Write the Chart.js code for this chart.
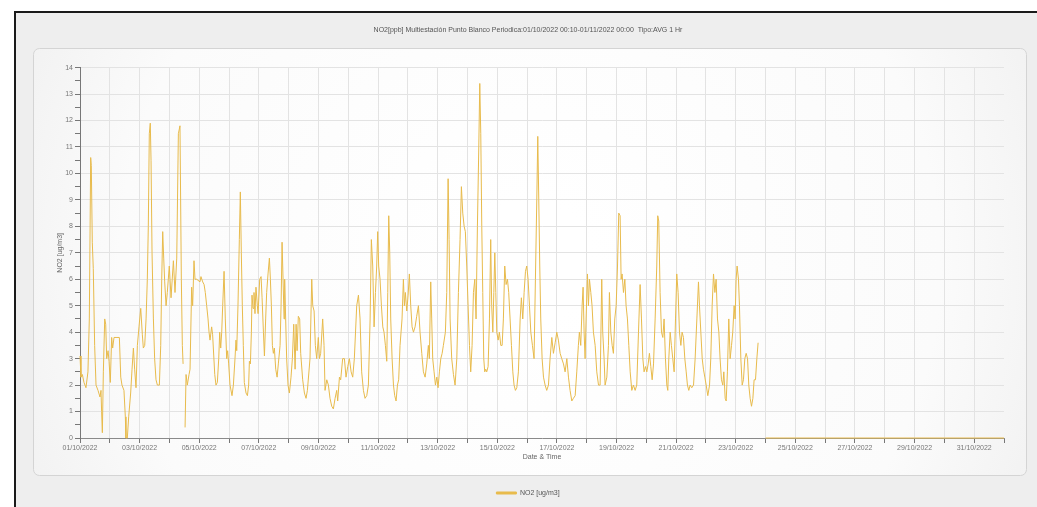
<!DOCTYPE html>
<html>
<head>
<meta charset="utf-8">
<title>NO2 Punto Blanco</title>
<script src="https://cdn.jsdelivr.net/npm/chart.js@4.4.0/dist/chart.umd.min.js"></script>
<style>
    html, body { margin: 0; padding: 0; background: #ffffff; width: 1037px; height: 507px; overflow: hidden; }
    #frame { position: absolute; left: 14px; top: 11px; width: 1023px; height: 496px; background: #eeeeee;
             border-top: 2px solid #1a1a1a; border-left: 2px solid #1a1a1a; box-sizing: border-box; }
    #no2Chart { position: absolute; left: 0; top: 0; }
</style>
</head>
<body>
<div id="frame"></div>
<canvas id="no2Chart" width="1037" height="507"></canvas>
<script>
// Hourly NO2 readings, [hours since 01/10/2022 00:00, value]
const days1to8 = [
    [0,3.1],[0.8,2.3],[1.9,2.4],[3.2,2.1],[4.8,1.9],[6.4,2.5],[7.5,4.5],[8.6,10.6],[9.1,10.3],[9.9,7.4],
    [10.7,6.4],[11.8,3.5],[12.9,2.0],[14.5,1.8],[16.1,1.55],[16.9,1.8],[17.4,1.0],[18.0,0.2],[18.8,2.5],[19.9,4.5],
    [20.7,4.3],[21.5,3.0],[22.6,3.3],[23.4,2.9],[24.4,2.1],[25.5,3.8],[26.3,3.4],[27.4,3.8],[29.0,3.8],[31.7,3.8],
    [32.8,2.3],[33.8,2.0],[35.4,1.8],[36.5,0.8],[37.0,0.0],[38.1,0.0],[39.2,0.8],[40.8,1.7],[41.9,2.6],[43.0,3.4],
    [44.0,2.6],[45.1,1.9],[46.2,3.5],[47.5,4.2],[48.9,4.9],[50.2,3.9],[51.0,3.4],[52.1,3.5],[53.2,4.5],[54.2,6.0],
    [55.0,8.0],[55.8,11.5],[56.6,11.9],[57.2,10.5],[58.0,7.0],[59.1,4.5],[60.1,3.0],[61.2,2.2],[62.3,2.0],[63.9,2.0],
    [65.0,3.5],[65.8,6.0],[66.6,7.8],[67.4,6.8],[68.2,5.9],[69.3,5.0],[70.3,5.5],[71.9,6.5],[73.3,5.3],[75.2,6.7],
    [76.5,5.5],[77.9,6.8],[79.2,11.5],[80.5,11.8],[81.6,6.0],[82.4,3.5],[83.0,2.8],[83.8,null],[84.6,0.4],[85.4,2.4],
    [86.4,2.0],[87.8,2.4],[88.6,2.6],[89.9,5.7],[90.7,5.0],[91.8,6.7],[92.6,6.0],[94.0,6.0],[96.6,5.9],[97.4,6.1],
    [98.8,5.9],[99.9,5.8],[100.9,5.5],[102.0,5.0],[103.1,4.5],[103.9,4.0],[104.7,3.7],[106.0,4.2],[106.8,3.9],[107.7,3.1],
    [108.5,2.4],[109.5,2.0],[110.6,2.1],[111.7,3.0],[112.5,4.0],[113.3,3.4],[114.1,4.0],[114.9,5.0],[116.0,6.3],[117.0,4.5],
    [118.1,3.0],[118.9,3.3],[119.7,2.8],[120.8,2.0],[122.4,1.6],[123.5,2.0],[124.8,3.0],[125.6,3.7],[126.2,3.3],[127.2,5.0],
    [128.3,7.5],[129.1,9.3],[129.9,7.0],[130.7,5.0],[131.5,3.5],[132.3,2.1],[133.7,1.7],[134.8,1.6],[135.8,2.0],[136.4,2.9],
    [137.2,2.8],[138.0,4.0],[138.5,5.4],[139.3,4.9],[140.1,5.5],[140.9,4.7],[141.7,5.7],[142.8,5.0],[143.4,4.7],[144.7,6.0],
    [145.8,6.1],[146.6,5.3],[147.7,4.0],[148.5,3.1],[149.5,4.5],[150.3,5.5],[151.4,6.2],[152.5,6.8],[153.3,6.0],[154.1,5.0],
    [154.9,3.5],[155.7,3.2],[156.5,3.4],[157.6,2.6],[158.7,2.3],[159.7,2.8],[161.1,3.5],[161.9,5.0],[162.7,7.4],[163.5,6.0],
    [164.3,4.5],[164.8,6.0],[165.6,4.5],[166.4,3.0],[167.5,2.0],[168.6,1.7],[169.9,2.3],[171.0,3.0],[172.1,4.3],[173.2,2.6],
    [174.0,4.3],[174.8,3.3],[175.8,4.6],[176.9,4.5],[177.7,3.2],[179.3,2.2],[180.7,1.7],[182.0,1.5],[183.1,1.8],[185.2,3.0]
];

const days8to16 = [
    [186.6,6.0],[187.4,5.0],[188.5,4.8],[189.5,3.5],[190.6,3.0],[191.9,3.8],[192.8,3.0],[193.8,3.2],[195.4,4.5],[196.5,3.5],
    [197.3,1.8],[198.7,2.2],[200.0,2.0],[201.3,1.5],[202.7,1.2],[204.0,1.1],[205.4,1.5],[206.7,1.8],[207.5,1.4],[208.9,2.3],
    [209.9,2.2],[211.5,3.0],[212.9,3.0],[214.2,2.3],[215.6,2.7],[216.9,3.0],[218.3,2.5],[219.6,2.3],[220.9,3.0],[222.8,5.0],
    [224.2,5.4],[225.5,4.5],[226.8,2.5],[228.2,1.8],[229.5,1.5],[230.9,1.6],[232.2,2.0],[233.6,4.5],[234.6,7.5],[235.7,6.5],
    [236.8,4.2],[237.9,5.5],[238.9,6.5],[239.7,7.8],[240.5,6.5],[241.6,6.0],[242.7,5.0],[243.8,4.2],[244.8,4.0],[245.9,3.5],
    [247.0,2.9],[247.8,5.5],[248.6,8.4],[249.4,7.0],[250.2,4.5],[251.3,3.0],[252.4,2.0],[253.4,1.6],[254.5,1.4],[255.6,2.0],
    [256.6,2.2],[257.7,3.5],[259.3,4.5],[260.4,6.0],[261.2,5.0],[262.0,5.5],[263.1,4.8],[264.2,5.4],[265.2,6.2],[266.3,5.0],
    [267.4,4.2],[268.5,4.0],[269.8,4.2],[271.1,4.6],[272.5,5.0],[273.8,4.0],[275.2,3.2],[276.5,2.5],[277.9,2.3],[279.2,2.8],
    [280.5,3.5],[281.3,3.0],[282.4,5.9],[283.2,4.5],[284.0,3.0],[285.1,2.5],[286.2,2.0],[287.3,2.3],[288.3,1.9],[289.4,2.5],
    [290.5,3.0],[291.6,3.2],[292.6,3.5],[294.2,4.0],[295.3,5.5],[296.4,9.8],[297.2,7.5],[298.0,4.5],[299.3,3.0],[300.7,2.4],
    [302.0,2.0],[303.4,3.0],[304.7,5.5],[306.0,7.5],[307.1,9.5],[308.2,8.5],[309.3,8.0],[310.3,7.8],[311.4,6.5],[312.5,5.0],
    [313.6,3.5],[314.6,2.5],[315.7,3.5],[316.8,5.5],[317.9,6.0],[318.9,4.5],[320.0,8.0],[321.1,11.0],[321.9,13.4],[322.7,11.5],
    [323.5,8.0],[324.3,5.5],[325.1,3.0],[325.9,2.5],[326.7,2.6],[327.5,2.5],[328.6,2.7],[329.7,4.5],[330.7,7.5],[331.5,5.0],
    [332.4,4.0],[333.2,5.5],[334.0,7.0],[334.8,5.5],[335.6,4.0],[336.7,3.7],[337.7,4.0],[338.8,3.5],[339.9,3.5],[340.9,4.5],
    [342.0,6.5],[343.1,5.8],[344.2,6.0],[345.2,5.5],[346.3,4.5],[347.4,3.5],[348.5,2.5],[349.5,2.0],[350.6,1.8],[351.7,1.9],
    [353.0,2.5],[354.4,4.5],[355.4,5.3],[356.5,4.5],[357.6,5.5],[358.7,6.3],[359.7,6.5],[360.8,6.0],[361.9,5.0],[363.0,4.0],
    [364.3,3.5],[365.6,3.0],[366.7,6.0],[367.8,9.0],[368.6,11.4],[369.4,9.0],[370.2,6.5],[371.0,4.5],[372.1,3.0],[373.2,2.3],
    [374.5,2.0],[375.8,1.8],[377.2,2.0]
];

const days16to23 = [
    [378.5,3.0],[379.9,3.8],[381.2,3.2],[382.6,3.6],[383.9,4.0],[385.2,3.7],[386.6,3.2],[387.9,3.0],[389.3,2.8],[390.6,2.5],
    [392.0,3.0],[393.3,2.3],[394.6,1.8],[396.0,1.4],[397.3,1.5],[398.7,1.6],[400.0,2.5],[401.3,3.5],[402.1,4.0],[403.2,3.5],
    [404.3,5.0],[405.1,5.7],[405.9,4.0],[406.7,3.0],[407.5,4.5],[408.6,6.2],[409.4,5.0],[410.2,6.0],[411.3,5.5],[412.3,5.0],
    [413.4,4.0],[414.8,3.5],[416.1,2.5],[417.5,2.0],[418.8,2.0],[420.1,6.0],[420.9,4.0],[422.0,3.0],[422.8,2.0],[424.2,2.3],
    [425.5,3.5],[426.3,5.5],[427.4,4.0],[428.5,3.5],[429.5,3.2],[430.6,4.5],[431.7,5.0],[432.8,6.5],[433.8,8.5],[434.9,8.4],
    [435.7,6.0],[436.5,6.2],[437.6,5.5],[438.7,6.0],[439.7,5.0],[440.8,4.5],[441.9,3.5],[443.0,2.5],[444.3,1.8],[445.6,2.0],
    [447.0,1.8],[448.3,2.0],[449.7,4.0],[451.0,5.8],[452.1,4.5],[453.2,3.0],[454.2,2.5],[455.3,2.7],[456.4,2.5],[457.5,2.8],
    [458.5,3.2],[459.6,2.7],[460.7,2.2],[461.8,2.8],[463.1,4.5],[464.4,6.5],[465.2,8.4],[466.0,8.2],[467.1,5.5],[468.2,4.0],
    [469.3,3.8],[470.3,4.5],[471.4,3.0],[472.5,2.0],[473.3,1.8],[474.1,3.0],[475.2,4.0],[476.2,3.5],[477.3,3.0],[478.4,2.5],
    [479.5,4.5],[480.5,6.2],[481.6,5.5],[482.7,4.0],[483.8,3.5],[484.8,4.0],[485.9,3.8],[487.0,3.0],[488.1,2.5],[489.1,2.0],
    [490.2,1.8],[491.3,2.0],[492.6,1.9],[494.0,2.0],[495.3,3.0],[496.7,4.5],[498.0,5.9],[498.8,5.0],[499.9,4.0],[501.0,3.0],
    [502.0,2.6],[503.1,2.3],[504.2,2.0],[505.5,1.6],[506.9,2.0],[507.9,3.0],[509.0,5.0],[510.1,6.2],[511.2,5.5],[512.2,6.0],
    [513.3,4.5],[514.4,4.0],[515.4,3.0],[516.5,2.2],[517.6,2.0],[518.4,2.5],[519.5,1.5],[520.3,1.4],[521.3,2.5],[522.4,4.5],
    [523.5,3.0],[524.6,3.5],[525.6,4.0],[526.7,5.0],[527.5,4.5],[528.3,6.0],[529.1,6.5],[530.2,6.0],[531.0,5.0],[532.1,3.0],
    [533.2,2.0],[534.2,2.2],[535.3,3.0],[536.4,3.2],[537.5,3.0],[538.5,2.0],[539.6,1.5],[540.7,1.2],[541.8,1.5],[542.8,2.2],
    [543.9,2.2],[545.0,3.0],[546.0,3.6]
];

// Station stops reporting, then flat zero until end of month
const endOfMonth = [[547.5,null],[552,0],[744,0]];

// X tick labels, one every 2 days
const tickLabels = ['01/10/2022','03/10/2022','05/10/2022','07/10/2022','09/10/2022','11/10/2022','13/10/2022','15/10/2022',
                    '17/10/2022','19/10/2022','21/10/2022','23/10/2022','25/10/2022','27/10/2022','29/10/2022','31/10/2022'];

const chartTitle = 'NO2[ppb] Multiestación Punto Blanco Periodica:01/10/2022 00:10-01/11/2022 00:00  Tipo:AVG 1 Hr';

const points = [...days1to8, ...days8to16, ...days16to23, ...endOfMonth].map(p => ({ x: p[0], y: p[1] }));

// White rounded panel behind the plot
const panelPlugin = {
    id: 'panel',
    beforeDraw(chart) {
        const ctx = chart.ctx;
        ctx.save();
        const g = ctx.createRadialGradient(530, 262, 60, 530, 262, 560);
        g.addColorStop(0, '#ffffff');
        g.addColorStop(0.7, '#fbfbfb');
        g.addColorStop(1, '#f1f1f1');
        ctx.beginPath();
        ctx.roundRect(33.5, 48.5, 993, 427, 6);
        ctx.fillStyle = g;
        ctx.fill();
        ctx.strokeStyle = '#d4d4d4';
        ctx.lineWidth = 1;
        ctx.stroke();
        ctx.restore();
    }
};

Chart.defaults.font.family = "'Liberation Sans', Arial, sans-serif";
Chart.defaults.font.size = 7;
Chart.defaults.color = '#777';

new Chart(document.getElementById('no2Chart').getContext('2d'), {
    type: 'line',
    data: {
        datasets: [{
            label: 'NO2 [ug/m3]',
            data: points,
            borderColor: '#e8bb4c',
            backgroundColor: '#e8bb4c',
            borderWidth: 1,
            pointRadius: 0,
            tension: 0,
            spanGaps: false,
            clip: 3
        }]
    },
    options: {
        responsive: false,
        animation: false,
        layout: { padding: { left: 52, right: 33, top: 0, bottom: 0.5 } },
        plugins: {
            title: {
                display: true,
                text: chartTitle,
                color: '#555',
                font: { size: 7, weight: 'normal' },
                padding: { top: 25.8, bottom: 33.4 }
            },
            legend: {
                position: 'bottom',
                labels: { boxWidth: 20, boxHeight: 2, padding: 25.5, color: '#555', font: { size: 7 } }
            },
            tooltip: { enabled: false }
        },
        scales: {
            x: {
                type: 'linear',
                min: 0,
                max: 744,
                afterFit: scale => { scale.height = 26; },
                ticks: {
                    stepSize: 24,
                    autoSkip: false,
                    maxRotation: 0,
                    padding: 1,
                    color: '#777',
                    callback: value => {
                        const i = value / 48;
                        return Number.isInteger(i) && i < tickLabels.length ? tickLabels[i] : '';
                    }
                },
                grid: {
                    color: c => (c.tick && c.tick.value === 744) ? 'rgba(0,0,0,0)' : '#e3e3e3',
                    tickColor: '#777',
                    tickLength: 5
                },
                border: { color: '#8a8a8a' },
                title: { display: true, text: 'Date & Time', color: '#666', font: { size: 7 }, padding: { top: 0, bottom: 3 } }
            },
            y: {
                min: 0,
                max: 14,
                afterFit: scale => { scale.width = 28; },
                ticks: {
                    stepSize: 0.5,
                    autoSkip: false,
                    padding: 2,
                    color: '#777',
                    callback: value => Number.isInteger(value) ? value : ''
                },
                grid: {
                    color: c => (c.tick && Number.isInteger(c.tick.value)) ? '#e3e3e3' : 'rgba(0,0,0,0)',
                    tickColor: '#777',
                    tickLength: 5
                },
                border: { color: '#777' },
                title: { display: true, text: 'NO2 [ug/m3]', color: '#666', font: { size: 7 }, padding: { top: 3.5, bottom: 0 } }
            }
        }
    },
    plugins: [panelPlugin]
});
</script>
</body>
</html>
